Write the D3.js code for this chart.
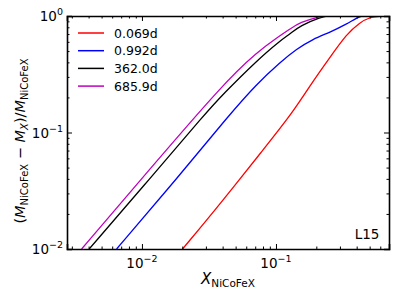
<html>
<head>
<script src="https://cdnjs.cloudflare.com/ajax/libs/d3/7.8.5/d3.min.js"></script>
<style>
    body { margin: 0; background: #fff; }
    svg { font-family: "DejaVu Sans", sans-serif; }
</style>
</head>
<body>
<svg id="viz" width="399" height="299"></svg>
<script>
    // series (x = X_NiCoFeX, y = mass fraction)
    var labels = ["0.069d", "0.992d", "362.0d", "685.9d"];
    var colors = ["#ff0000", "#0000ff", "#000000", "#bf00bf"];

    var xRed = [0.0201, 0.0382, 0.080, 0.1310, 0.1898, 0.2529, 0.3370, 0.4234, 0.5029, 0.5771, 0.618];
    var yRed = [0.010, 0.0243, 0.0708, 0.1441, 0.2784, 0.4419, 0.7007, 0.883, 0.9746, 0.990, 1.0];

    var xBlue = [0.00647, 0.0192, 0.04406, 0.0718, 0.1072, 0.1427, 0.1888, 0.2529, 0.3370, 0.400, 0.4384];
    var yBlue = [0.010, 0.0432, 0.1385, 0.2609, 0.4005, 0.521, 0.6348, 0.7245, 0.8538, 0.9612, 1.0];

    var xBlack = [0.00404, 0.01147, 0.0295, 0.0404, 0.0718, 0.1072, 0.1272, 0.1510, 0.2193, 0.2443];
    var yBlack = [0.010, 0.0402, 0.1441, 0.214, 0.4134, 0.6138, 0.7007, 0.8254, 0.9862, 1.0];

    var xMag = [0.00355, 0.01147, 0.0404, 0.0718, 0.1072, 0.1272, 0.1510, 0.2130, 0.2321];
    var yMag = [0.010, 0.0486, 0.2609, 0.488, 0.678, 0.773, 0.883, 0.990, 1.0];

    var xMajor = [0.01, 0.1];
    var yMajor = [0.01, 0.1, 1];

    var seriesX = [xRed, xBlue, xBlack, xMag];
    var seriesY = [yRed, yBlue, yBlack, yMag];

    // plot box (note: "top" is reserved on window, so use other names)
    var padL = 67, padR = 389, padT = 16, padB = 249;

    var x = d3.scaleLog().domain([0.00276, 0.697]).range([padL, padR]);
    var y = d3.scaleLog().domain([0.01, 1]).range([padB, padT]);

    var svg = d3.select("#viz");

    svg.append("defs").append("clipPath").attr("id", "clip")
        .append("rect")
        .attr("x", padL).attr("y", padT)
        .attr("width", padR - padL).attr("height", padB - padT);

    // basis keeps the bends soft like the original sampled curves
    var line = d3.line()
        .x(function (d) { return x(d[0]); })
        .y(function (d) { return y(d[1]); })
        .curve(d3.curveBasis);

    var plot = svg.append("g").attr("clip-path", "url(#clip)");
    seriesX.forEach(function (xs, i) {
        var pts = xs.map(function (v, j) { return [v, seriesY[i][j]]; });
        plot.append("path")
            .datum(pts)
            .attr("d", line)
            .attr("fill", "none")
            .attr("stroke", colors[i])
            .attr("stroke-width", 1.3);
    });

    // minor ticks = all log ticks that are not powers of ten
    function isMajor(v) {
        var l = Math.log10(v);
        return Math.abs(l - Math.round(l)) < 1e-6;
    }
    var xMinor = x.ticks().filter(function (v) { return !isMajor(v); });
    var yMinor = y.ticks().filter(function (v) { return !isMajor(v); });

    function drawAxis(axisFn, scale, pos, majors, minors) {
        var g = svg.append("g").attr("transform", pos);
        g.call(axisFn(scale).tickValues(majors).tickSize(-5).tickFormat(""));
        var g2 = svg.append("g").attr("transform", pos);
        g2.call(axisFn(scale).tickValues(minors).tickSize(-2.5).tickFormat(""));
        g2.select(".domain").remove();
        svg.selectAll(".tick line").attr("stroke", "#000").attr("stroke-width", 1);
        g.select(".domain").attr("stroke", "#000").attr("stroke-width", 1.6);
    }

    drawAxis(d3.axisBottom, x, "translate(0," + padB + ")", xMajor, xMinor);
    drawAxis(d3.axisTop, x, "translate(0," + padT + ")", xMajor, xMinor);
    drawAxis(d3.axisLeft, y, "translate(" + padL + ",0)", yMajor, yMinor);
    drawAxis(d3.axisRight, y, "translate(" + padR + ",0)", yMajor, yMinor);

    // tick labels with superscripts
    function powLabel(g, v) {
        var e = Math.round(Math.log10(v));
        g.append("tspan").text("10");
        g.append("tspan").attr("dy", -6).attr("font-size", 9.5)
            .text(e < 0 ? "\u2212" + (-e) : String(e));
    }

    xMajor.forEach(function (v) {
        var t = svg.append("text")
            .attr("x", x(v)).attr("y", padB + 19)
            .attr("text-anchor", "middle")
            .attr("font-size", 13.5);
        powLabel(t, v);
    });
    yMajor.forEach(function (v) {
        var t = svg.append("text")
            .attr("x", padL - 4).attr("y", y(v) + 5)
            .attr("text-anchor", "end")
            .attr("font-size", 13.5);
        powLabel(t, v);
    });

    // axis labels
    var xl = svg.append("text")
        .attr("x", 228).attr("y", 284)
        .attr("text-anchor", "middle")
        .attr("font-size", 15);
    xl.append("tspan").attr("font-style", "italic").text("X");
    xl.append("tspan").attr("font-size", 10.5).attr("dy", 3).text("NiCoFeX");

    var yl = svg.append("text")
        .attr("transform", "translate(25,141) rotate(-90)")
        .attr("text-anchor", "middle")
        .attr("font-size", 14.5);
    yl.append("tspan").text("(");
    yl.append("tspan").attr("font-style", "italic").text("M");
    yl.append("tspan").attr("font-size", 10).attr("dy", 3).text("NiCoFeX");
    yl.append("tspan").attr("dy", -3).text(" \u2212 ");
    yl.append("tspan").attr("font-style", "italic").text("M");
    yl.append("tspan").attr("font-size", 10).attr("font-style", "italic").attr("dy", 3).text("X");
    yl.append("tspan").attr("dy", -3).text(")/");
    yl.append("tspan").attr("font-style", "italic").text("M");
    yl.append("tspan").attr("font-size", 10).attr("dy", 3).text("NiCoFeX");

    // legend
    labels.forEach(function (name, i) {
        var ly = 33 + i * 17.7;
        svg.append("line")
            .attr("x1", 78).attr("x2", 104)
            .attr("y1", ly).attr("y2", ly)
            .attr("stroke", colors[i]).attr("stroke-width", 1.5);
        svg.append("text")
            .attr("x", 114).attr("y", ly + 4.5)
            .attr("font-size", 12.5)
            .text(name);
    });

    svg.append("text")
        .attr("x", 367).attr("y", 239)
        .attr("text-anchor", "middle")
        .attr("font-size", 13.5)
        .text("L15");
</script>
</body>
</html>
